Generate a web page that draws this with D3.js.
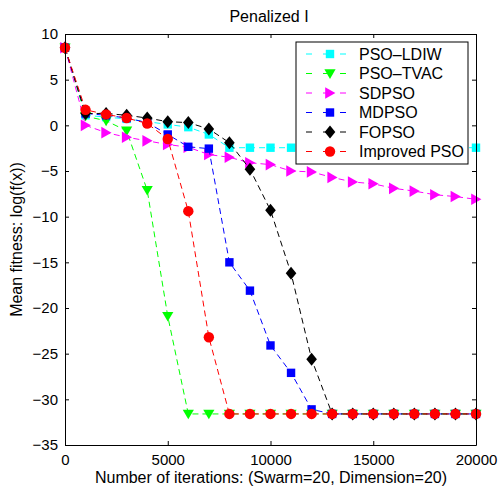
<!DOCTYPE html>
<html>
<head>
<meta charset="utf-8">
<script src="https://cdn.jsdelivr.net/npm/d3@7"></script>
<style>
  body { margin: 0; background: #fff; }
  text { font-family: "Liberation Sans", Arial, sans-serif; }
</style>
</head>
<body>
<div id="chart"></div>
<script>
// iterations sampled every 1000
var iterations = d3.range(0, 20001, 1000);

var psoLdiw = [8.5, 1.1, 0.9, 0.7, 0.4, 0.1, -0.2, -1.0, -2.45, -2.45, -2.45, -2.45, -2.45, -2.45, -2.45, -2.45, -2.45, -2.45, -2.45, -2.45, -2.45];
var psoTvac = [8.5, 1.0, 0.5, -0.6, -7.1, -20.9, -31.6, -31.6, -31.6, -31.6, -31.6, -31.6, -31.6, -31.6, -31.6, -31.6, -31.6, -31.6, -31.6, -31.6, -31.6];
var sdpso = [8.5, 0.0, -0.8, -1.3, -1.7, -2.1, -2.4, -3.2, -3.5, -4.1, -4.3, -5.0, -5.1, -5.7, -6.2, -6.4, -6.9, -7.2, -7.6, -7.8, -8.1];
var mdpso = [8.5, 1.3, 1.1, 0.8, 0.3, -1.0, -2.35, -2.55, -15.0, -18.1, -24.1, -27.1, -31.1, -31.6, -31.6, -31.6, -31.6, -31.6, -31.6, -31.6, -31.6];
var fopso = [8.5, 1.3, 1.3, 1.1, 0.8, 0.4, 0.3, -0.4, -1.9, -4.8, -9.3, -16.2, -25.6, -31.6, -31.6, -31.6, -31.6, -31.6, -31.6, -31.6, -31.6];
var improvedPso = [8.5, 1.7, 1.2, 0.8, 0.2, -1.5, -9.4, -23.2, -31.6, -31.6, -31.6, -31.6, -31.6, -31.6, -31.6, -31.6, -31.6, -31.6, -31.6, -31.6, -31.6];

var seriesNames = ["PSO\u2013LDIW", "PSO\u2013TVAC", "SDPSO", "MDPSO", "FOPSO", "Improved PSO"];
var seriesColors = ["#00ffff", "#00ff00", "#ff00ff", "#0000ff", "#000000", "#ff0000"];
var seriesMarkers = ["square", "triDown", "triRight", "square", "diamond", "circle"];
var seriesValues = [psoLdiw, psoTvac, sdpso, mdpso, fopso, improvedPso];

var xTicks = [0, 5000, 10000, 15000, 20000];
var yTicks = [10, 5, 0, -5, -10, -15, -20, -25, -30, -35];

var width = 498, height = 489;
var margin = { left: 65, right: 22, top: 34, bottom: 44 };

var svg = d3.select("#chart").append("svg")
  .attr("width", width)
  .attr("height", height);

var x = d3.scaleLinear().domain([0, 20000]).range([margin.left, width - margin.right]);
var y = d3.scaleLinear().domain([-35, 10]).range([height - margin.bottom, margin.top]);

// marker shapes
function marker(sel, type, color) {
  if (type === "square") {
    sel.append("rect").attr("x", -4.2).attr("y", -4.2).attr("width", 8.4).attr("height", 8.4)
      .attr("fill", color);
  } else if (type === "circle") {
    sel.append("circle").attr("r", 5.2).attr("fill", color);
  } else if (type === "diamond") {
    sel.append("path").attr("d", "M0,-6.5L5.3,0L0,6.5L-5.3,0Z").attr("fill", color);
  } else if (type === "triDown") {
    sel.append("path").attr("d", "M-5.6,-4.3L5.6,-4.3L0,5.4Z").attr("fill", color);
  } else if (type === "triRight") {
    sel.append("path").attr("d", "M-4.8,-5.8L5.4,0L-4.8,5.8Z").attr("fill", color);
  }
}

var plot = svg.append("g");

var line = d3.line()
  .x(function (d, i) { return x(iterations[i]); })
  .y(function (d) { return y(d); });

seriesValues.forEach(function (vals, k) {
  plot.append("path")
    .datum(vals)
    .attr("d", line)
    .attr("fill", "none")
    .attr("stroke", seriesColors[k])
    .attr("stroke-width", 1)
    .style("stroke-dasharray", "6, 4");

  plot.selectAll(".m" + k)
    .data(vals)
    .enter()
    .append("g")
    .attr("class", "m" + k)
    .attr("transform", function (d, i) {
      return "translate(" + x(iterations[i]) + "," + y(d) + ")";
    })
    .each(function () { marker(d3.select(this), seriesMarkers[k], seriesColors[k]); });
});

// axes with inward ticks, box on all four sides
svg.append("g")
  .attr("transform", "translate(0," + y(-35) + ")")
  .call(d3.axisBottom(x).tickValues(xTicks).tickSizeInner(-4).tickSizeOuter(0).tickPadding(9)
    .tickFormat(d3.format("d")));
svg.append("g")
  .attr("transform", "translate(0," + y(10) + ")")
  .call(d3.axisTop(x).tickValues(xTicks).tickSizeInner(-4).tickSizeOuter(0).tickFormat(""));
svg.append("g")
  .attr("transform", "translate(" + x(0) + ",0)")
  .call(d3.axisLeft(y).tickValues(yTicks).tickSizeInner(-4).tickSizeOuter(0).tickPadding(7)
    .tickFormat(function (d) { return d < 0 ? "\u2212" + Math.abs(d) : d; }));
svg.append("g")
  .attr("transform", "translate(" + x(20000) + ",0)")
  .call(d3.axisRight(y).tickValues(yTicks).tickSizeInner(-4).tickSizeOuter(0).tickFormat(""));

svg.selectAll(".domain").attr("stroke", "#000").attr("stroke-width", 1);
svg.selectAll(".tick line").attr("stroke", "#000");
svg.selectAll(".tick text").attr("font-size", 15).attr("fill", "#000")
  .style("font-family", "'Liberation Sans', Arial, sans-serif");

// title and labels
svg.append("text")
  .attr("x", 269).attr("y", 22)
  .attr("text-anchor", "middle")
  .attr("font-size", 16)
  .text("Penalized I");

svg.append("text")
  .attr("x", 271).attr("y", 483)
  .attr("text-anchor", "middle")
  .attr("font-size", 16)
  .text("Number of iterations: (Swarm=20, Dimension=20)");

svg.append("text")
  .attr("transform", "translate(22," + y(-12.5) + ") rotate(-90)")
  .attr("text-anchor", "middle")
  .attr("font-size", 16)
  .text("Mean fitness: log(f(x))");

// legend
var legend = svg.append("g").attr("transform", "translate(296,42)");
legend.append("rect")
  .attr("width", 172).attr("height", 122)
  .attr("fill", "#fff").attr("stroke", "#000").attr("stroke-width", 1);

seriesNames.forEach(function (name, k) {
  var row = legend.append("g").attr("transform", "translate(0," + (12 + k * 19.5) + ")");
  row.append("line")
    .attr("x1", 10).attr("x2", 57).attr("y1", 0).attr("y2", 0)
    .attr("stroke", seriesColors[k]).attr("stroke-width", 1)
    .style("stroke-dasharray", "6, 11");
  var m = row.append("g").attr("transform", "translate(34,0)");
  marker(m, seriesMarkers[k], seriesColors[k]);
  row.append("text")
    .attr("x", 63).attr("y", 5.5)
    .attr("font-size", 16)
    .text(name);
});
</script>
</body>
</html>
